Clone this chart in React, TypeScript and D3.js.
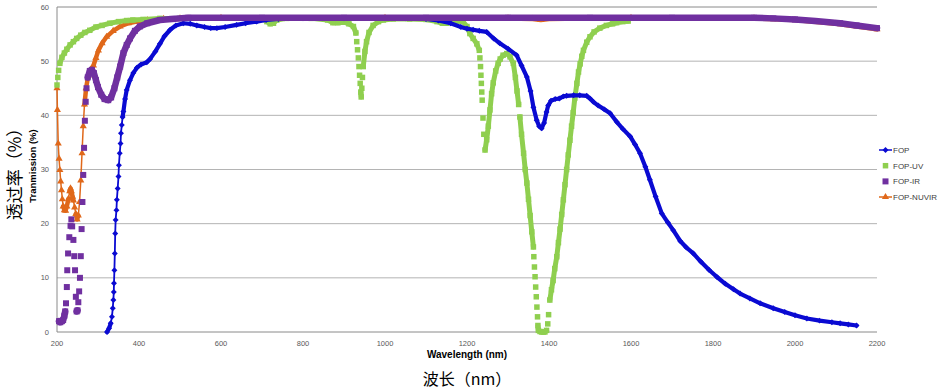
import React from 'react'
import * as d3 from 'd3'

// wavelength (nm), transmission (%)
const fop: [number, number][] = [
  [322, 0], [327, 0.7], [331, 1.6], [334, 2.8], [336, 4.4], [337.5, 5.9], [338.5, 7.4], [339, 9],
  [340, 11.4], [341, 14.5], [342, 18.2], [343, 20.7], [345, 22.5], [346, 24.4], [348, 26.5],
  [350, 28.7], [351, 30.8], [353, 33], [355, 34.8], [356, 36.7], [358, 38.2], [360, 39.7],
  [362, 40.7], [366, 43], [370, 44.7], [378, 46.5], [386, 47.8], [395, 48.8], [405, 49.4],
  [419, 49.8], [427, 50.4], [440, 51.8], [451, 53.2], [462, 54.6], [476, 55.8], [490, 56.6],
  [508, 57], [525, 56.9], [541, 56.6], [560, 56.3], [575, 56.1], [590, 56.1], [610, 56.3],
  [638, 56.7], [660, 57], [687, 57.3], [710, 57.6], [740, 57.8], [800, 57.9], [900, 57.9],
  [1000, 57.9], [1050, 57.9], [1100, 57.8], [1130, 57.5], [1160, 57], [1185, 56.3], [1200, 56],
  [1215, 55.8], [1230, 55.6], [1248, 55.4], [1265, 54.2], [1280, 53.3], [1300, 52.3],
  [1321, 51.1], [1333, 49.2], [1346, 47.1], [1355, 44.5], [1362, 41.5], [1370, 39.1],
  [1376, 38], [1382, 37.6], [1388, 38.6], [1394, 40.6], [1398, 41.8], [1405, 42.7], [1415, 43],
  [1425, 43.1], [1435, 43.5], [1443, 43.6], [1460, 43.7], [1475, 43.7], [1492, 43.6],
  [1500, 43.1], [1508, 42.5], [1520, 41.8], [1535, 41.1], [1549, 40.4], [1565, 38.8],
  [1580, 37.5], [1598, 36.1], [1610, 34.6], [1622, 33], [1635, 30.5], [1646, 28.1], [1660, 25],
  [1675, 21.9], [1690, 20.2], [1703, 18.8], [1720, 16.8], [1735, 15.6], [1752, 14.5], [1770, 13],
  [1790, 11.5], [1809, 10.2], [1830, 8.9], [1850, 7.9], [1866, 7.1], [1890, 6.2], [1915, 5.3],
  [1947, 4.4], [1975, 3.7], [2000, 3.1], [2029, 2.5], [2060, 2.1], [2090, 1.8], [2110, 1.6],
  [2130, 1.4], [2150, 1.2],
]

const fopUV: [number, number][] = [
  [200, 45.6], [202, 47], [204, 48.3], [207, 49.6], [212, 50.7], [218, 51.5], [224, 52.2], [232, 53],
  [240, 53.6], [248, 54.2], [258, 54.8], [268, 55.3], [280, 55.7], [295, 56.3], [310, 56.6],
  [329, 57], [350, 57.3], [370, 57.5], [385, 57.6], [410, 57.7], [451, 57.9], [500, 57.9],
  [560, 58], [640, 58], [700, 57.8], [712, 57.3], [720, 56.9], [728, 57], [736, 57.6],
  [760, 57.9], [820, 57.9], [860, 57.6], [873, 57.1], [885, 57.1], [900, 57.2], [912, 56.9],
  [923, 56.4], [929, 55.2], [931, 53.6], [933, 52.1], [935, 50.6], [936.5, 49], [938, 47.4],
  [939.5, 45.9], [941, 44.3], [942, 43.4], [943.5, 45], [945, 47], [947, 49], [951, 51.8],
  [955, 53.6], [961, 55.3], [971, 56.6], [984, 57.3], [996, 57.6], [1020, 57.8], [1060, 57.8],
  [1100, 57.7], [1127, 57.3], [1140, 57], [1150, 57], [1165, 57.2], [1176, 57.4], [1190, 57.3],
  [1200, 56.4], [1207, 55.1], [1215, 54.2], [1224, 53.2], [1230, 52], [1231.5, 50.6],
  [1233, 49], [1234, 47.4], [1235, 45.9], [1236, 44.3], [1237, 42.8], [1239, 39.5],
  [1241, 36.5], [1244, 33.6], [1248, 35.5], [1252, 38], [1256, 41], [1260, 44], [1264, 46],
  [1270, 48.2], [1276, 49.6], [1281, 50.4], [1288, 51.1], [1297, 51.4], [1305, 50.8],
  [1313, 49.6], [1318, 47], [1322, 44.5], [1326, 42], [1329, 39.7], [1333, 36.5], [1338, 33],
  [1342, 30], [1346, 27.5], [1350, 24.5], [1354, 21.5], [1358, 18.5], [1362, 15.7],
  [1363, 13.9], [1364.5, 12], [1366, 10.2], [1367.5, 8.3], [1369, 6.5], [1370.5, 4.6],
  [1372, 2.8], [1373, 1.2], [1374, 0.3], [1378, 0.1], [1382, 0], [1386, 0], [1390, 0],
  [1394, 0.3], [1397, 1.5], [1399, 3.2], [1402, 5.9], [1406, 7.8], [1410, 9.5], [1414, 11.7],
  [1419, 13.9], [1423, 16.5], [1427, 19], [1431, 21.7], [1435, 24.4], [1439, 27.2],
  [1443, 30], [1447, 32.7], [1451, 35.4], [1455, 38], [1459, 40.5], [1463, 43.2], [1468, 45.9],
  [1472, 48], [1476, 49.5], [1480, 50.9], [1484, 52], [1492, 53.5], [1500, 54.5],
  [1510, 55.4], [1524, 56.1], [1540, 56.6], [1555, 56.9], [1565, 57.1], [1580, 57.3],
  [1593, 57.4],
]

const fopIR: [number, number][] = [
  [205, 2], [208, 1.8], [212, 2], [215, 2.2], [218, 3], [220, 3.8], [222, 5.3], [224, 8.3],
  [225, 11.4], [227, 14.5], [230, 17.5], [233, 19.6], [235, 20.8], [237, 19.5], [240, 17],
  [242, 14], [244, 11.4], [246, 6.5], [248, 3.8], [250, 4], [252, 5.5], [254, 7.5], [256, 10],
  [258, 14], [260, 19], [262, 24], [264, 29], [266, 34], [268, 39], [270, 42.5], [272, 45],
  [275, 47], [280, 48.2], [285, 48.4], [290, 47.8], [295, 46.5], [300, 45.2], [308, 43.8],
  [316, 43], [325, 42.8], [332, 43.3], [340, 45], [347, 47], [354, 49], [362, 51.5], [370, 53],
  [378, 54.2], [390, 55.6], [402, 56.4], [420, 57], [451, 57.6], [480, 57.8], [520, 58],
  [700, 58], [900, 58], [1100, 58], [1300, 58], [1500, 58], [1700, 58], [1900, 58],
  [1947, 57.9], [2000, 57.7], [2050, 57.4], [2110, 57], [2150, 56.6], [2200, 56.1],
]

const fopNUVIR: [number, number][] = [
  [200, 45], [201, 41], [203, 34.8], [205, 32], [207, 29.9], [209, 27.8], [211, 26.2],
  [213, 24.5], [215, 23.2], [218, 22.5], [221, 22.4], [224, 23.2], [228, 24.6], [231, 26],
  [233, 26.5], [235, 26], [238, 25], [240, 24.3], [243, 23], [246, 21.8], [249, 20.8],
  [252, 21.5], [255, 24], [258, 28], [261, 33], [264, 38], [267, 42], [271, 45], [276, 47.3],
  [282, 48.4], [289, 49.2], [295, 50.6], [301, 52], [310, 53.3], [321, 54.5], [337, 55.6],
  [354, 56.4], [374, 57], [394, 57.3], [420, 57.6], [460, 57.8], [500, 57.9], [600, 58],
  [1000, 58], [1300, 57.9], [1360, 57.8], [1380, 57.6], [1400, 57.8], [1600, 58], [1900, 57.9],
  [2000, 57.6], [2100, 56.9], [2200, 55.9],
]

const xTicks = [200, 400, 600, 800, 1000, 1200, 1400, 1600, 1800, 2000, 2200]
const yTicks = [0, 10, 20, 30, 40, 50, 60]
const seriesNames = ['FOP', 'FOP-UV', 'FOP-IR', 'FOP-NUVIR']

const x = d3.scaleLinear().domain([200, 2200]).range([57, 877])
const y = d3.scaleLinear().domain([0, 60]).range([332, 7])

const colors: Record<string, string> = {
  'FOP': '#0a0ad2',
  'FOP-UV': '#8fcf4f',
  'FOP-IR': '#7030a0',
  'FOP-NUVIR': '#e0681a',
}

// runs of steps where the original's dense markers merge into a solid band
function bandPath(pts: [number, number][]) {
  let d = ''
  let open = false
  for (let i = 1; i < pts.length; i++) {
    const x0 = x(pts[i - 1][0]), y0 = y(pts[i - 1][1])
    const x1 = x(pts[i][0]), y1 = y(pts[i][1])
    if (x1 - x0 >= 1.5 || Math.abs(y1 - y0) < 6) {
      if (!open) d += `M${x0},${y0}`
      d += `L${x1},${y1}`
      open = true
    } else open = false
  }
  return d
}

const line = d3.line<[number, number]>().x(d => x(d[0])).y(d => y(d[1]))

const square = (s: number) => d3.symbol().type(d3.symbolSquare).size(s * s)()
const triangle = d3.symbol().type(d3.symbolTriangle).size(22)()

function Marker({ kind, color }: { kind: string, color: string }) {
  if (kind === 'diamond') return <path d={square(4.2) || ''} transform='rotate(45)' fill={color} />
  if (kind === 'triangle') return <path d={triangle || ''} fill={color} />
  if (kind === 'bigsquare') return <path d={square(6) || ''} fill={color} />
  return <path d={square(5.5) || ''} fill={color} />
}

function Series({ pts, color, kind, band, thin }: { pts: [number, number][], color: string, kind: string, band: number, thin: number }) {
  return (
    <g>
      {thin > 0 && <path d={line(pts) || ''} fill='none' stroke={color} strokeWidth={thin} />}
      <path d={bandPath(pts)} fill='none' stroke={color} strokeWidth={band} strokeLinejoin='round' strokeLinecap='round' />
      {pts.map((p, i) => (
        <g key={i} transform={`translate(${x(p[0])},${y(p[1])})`}>
          <Marker kind={kind} color={color} />
        </g>
      ))}
    </g>
  )
}

export default function App() {
  const tickFont = { fontFamily: 'Liberation Sans, Arial, sans-serif', fontSize: 7.5, fill: '#595959' }
  const legendY = [150, 165.7, 181.4, 197]
  const legendKinds = ['diamond', 'square', 'bigsquare', 'triangle']
  return (
    <svg width={946} height={392} style={{ position: 'absolute', left: 0, top: 0, background: '#fff' }}>
      {/* grid */}
      {yTicks.map(t => (
        <line key={t} x1={57} x2={877} y1={y(t)} y2={y(t)} stroke={t === 0 || t === 60 ? '#8a8a8a' : '#b4b4b4'} strokeWidth={1} />
      ))}
      <line x1={57} x2={57} y1={y(60)} y2={y(0)} stroke='#8a8a8a' />
      {yTicks.map(t => (
        <text key={t} x={49} y={y(t) + 2.6} textAnchor='end' {...tickFont}>{t}</text>
      ))}
      {xTicks.map(t => (
        <text key={t} x={x(t)} y={346} textAnchor='middle' {...tickFont}>{t}</text>
      ))}

      <Series pts={fopNUVIR} color={colors['FOP-NUVIR']} kind='triangle' band={4.5} thin={1.5} />
      <Series pts={fopUV} color={colors['FOP-UV']} kind='square' band={5} thin={0} />
      <Series pts={fop} color={colors['FOP']} kind='diamond' band={4.2} thin={1.8} />
      <Series pts={fopIR} color={colors['FOP-IR']} kind='bigsquare' band={6.5} thin={0} />

      {/* legend */}
      {seriesNames.map((name, i) => (
        <g key={name}>
          {(name === 'FOP' || name === 'FOP-NUVIR') && (
            <line x1={879} x2={892} y1={legendY[i]} y2={legendY[i]} stroke={colors[name]} strokeWidth={1.5} />
          )}
          <g transform={`translate(885.5,${legendY[i]})`}>
            <Marker kind={legendKinds[i]} color={colors[name]} />
          </g>
          <text x={893} y={legendY[i] + 3} fontFamily='Liberation Sans, Arial, sans-serif' fontSize={8} fill='#404040'>{name}</text>
        </g>
      ))}

      {/* axis titles */}
      <text x={467} y={358} textAnchor='middle' fontFamily='Liberation Sans, Arial, sans-serif' fontWeight='bold' fontSize={10} fill='#000'>Wavelength (nm)</text>
      <text transform='translate(36,166) rotate(-90)' textAnchor='middle' fontFamily='Liberation Sans, Arial, sans-serif' fontWeight='bold' fontSize={9.5} fill='#000'>Tranmission (%)</text>
      <text x={467} y={385} textAnchor='middle' fontFamily='Noto Sans CJK SC' fontSize={16} fill='#000'>波长（nm）</text>
      <text transform='translate(21,170) rotate(-90)' textAnchor='middle' fontFamily='Noto Sans CJK SC' fontSize={17} fill='#000'>透过率（%）</text>
    </svg>
  )
}
